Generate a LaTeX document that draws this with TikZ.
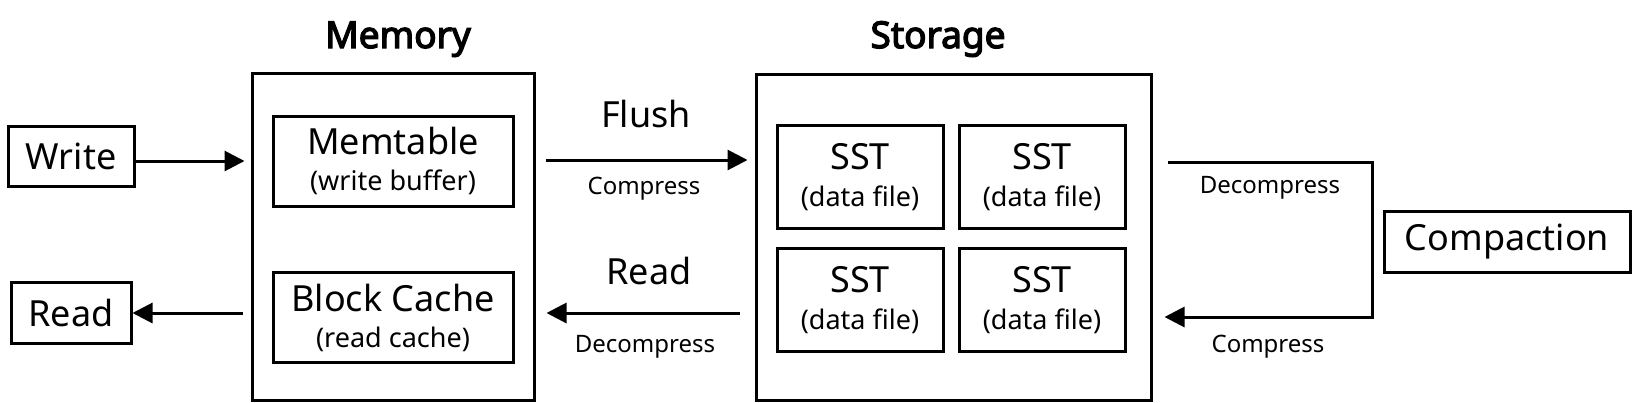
\documentclass[tikz,border=0pt]{standalone}
\usepackage{fontspec}
\setmainfont{Noto Sans}
\newfontfamily\ttlfont{Noto Sans}[AutoFakeBold=3.5]
\usetikzlibrary{arrows.meta,calc}
\newcommand{\bigtxt}{\fontsize{18}{21}\selectfont}
\newcommand{\subtxt}{\fontsize{13.5}{16}\selectfont}
\newcommand{\lbltxt}{\fontsize{12}{14}\selectfont}
\newcommand{\ttltxt}{\fontsize{18.5}{22}\ttlfont\bfseries}

\begin{document}
\begin{tikzpicture}[x=0.5pt,y=-0.5pt,
  box/.style={draw,line width=1.5pt,inner sep=0pt},
  inbox/.style={box,align=center,font=\subtxt},
  arr/.style={line width=1.5pt,-{Triangle[length=10pt,width=10pt]}},
  lbl/.style={font=\lbltxt,anchor=base},
  ttl/.style={font=\ttltxt,anchor=base}]
\useasboundingbox (0,0) rectangle (1632,402);
\node[ttl] (memttl) at (398,48) {Memory};
\node[ttl] (stottl) at (938,48) {Storage};
\node[box,minimum width=141pt,minimum height=163.5pt] (mem) at (393,236.5) {};
\node[inbox,minimum width=120pt,minimum height=45pt] (memtable) at (393,161) {{\bigtxt Memtable}\\[2pt](write buffer)};
\node[inbox,minimum width=120pt,minimum height=45pt] (cache) at (393,317.5) {{\bigtxt Block Cache}\\[2pt](read cache)};
\node[box,font=\bigtxt,minimum width=63pt,minimum height=30pt] (write) at (71,156) {Write};
\node[box,font=\bigtxt,minimum width=60pt,minimum height=30.5pt] (read) at (71,313) {Read};
\node[box,minimum width=197.5pt,minimum height=163pt] (storage) at (953.5,237) {};
\foreach \xx/\yy/\nn in {860/177/a,1042/177/b,860/300/c,1042/300/d} {
  \node[inbox,minimum width=83pt,minimum height=51.5pt] (sst\nn) at (\xx,\yy) {{\bigtxt SST}\\[2.5pt](data file)};
}
\node[box,font=\bigtxt,minimum width=123pt,minimum height=30.5pt] (compaction) at (1507,241.5) {Compaction};
\draw[arr,shorten >=3pt] ($(write.east)+(0,5)$) -- ($(mem.west |- write.east)+(0,5)$);
\draw[arr,shorten <=4pt] (mem.west |- read.east) -- (read.east);
\draw[arr,shorten <=5pt,shorten >=3.5pt] ($(mem.east)+(0,-76.5)$) -- ($(storage.west)+(0,-77)$);
\draw[arr,shorten <=7.5pt,shorten >=5.5pt] ($(storage.west)+(0,76)$) -- ($(mem.east)+(0,76.5)$);
\draw[arr] ($(storage.east)+(15,-75)$) -| ($(compaction.west)+(-10,0)$) |- ($(storage.east)+(12,80)$);
\node[font=\bigtxt,anchor=base] (flush) at (646,127) {Flush};
\node[lbl] (cmpA) at (644,194) {Compress};
\node[font=\bigtxt,anchor=base] (readlbl) at (649,284) {Read};
\node[lbl] (dcmpA) at (645,352) {Decompress};
\node[lbl] (dcmpB) at (1270,193) {Decompress};
\node[lbl] (cmpB) at (1268,352) {Compress};
\end{tikzpicture}
\end{document}
